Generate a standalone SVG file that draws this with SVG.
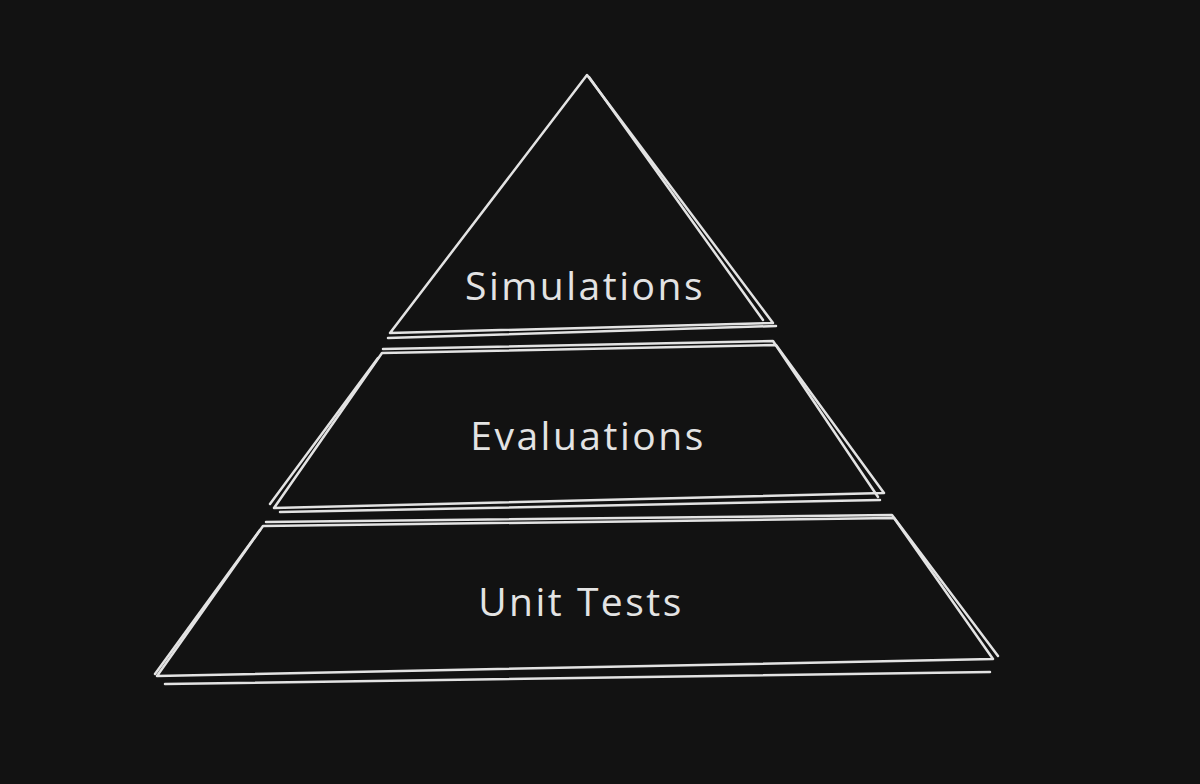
<svg xmlns="http://www.w3.org/2000/svg" width="1200" height="784" viewBox="0 0 1200 784">
<style>
.s{fill:none;stroke:#e3e3e3;stroke-width:2.5;stroke-linecap:round;stroke-linejoin:round}
.t{fill:#e3e3e3;font-family:"Open Sans","DejaVu Sans",sans-serif;font-size:39px;text-anchor:middle;letter-spacing:2.5px}
</style>
<rect width="1200" height="784" fill="#121212"/>
<g id="simulations">
<path class="s" d="M587 75 L390 333 L773 323 Z"/>
<path class="s" d="M589 77 L763 320 M388 338 L776 326"/>
<text class="t" x="585" y="300">Simulations</text>
</g>
<g id="evaluations">
<path class="s" d="M382 353 L776 345 L884 493 L274 508 Z"/>
<path class="s" d="M378 358 L270 504 M383 349 L773 341 L878 497 M280 512 L880 500"/>
<text class="t" x="588" y="450">Evaluations</text>
</g>
<g id="unit-tests">
<path class="s" d="M263 526 L894 518 L993 659 L157 676 Z"/>
<path class="s" d="M260 530 L155 674 M266 522 L892 515 L998 656 M165 684 L990 672"/>
<text class="t" x="581" y="616">Unit Tests</text>
</g>
<g id="connectors"/>
</svg>
